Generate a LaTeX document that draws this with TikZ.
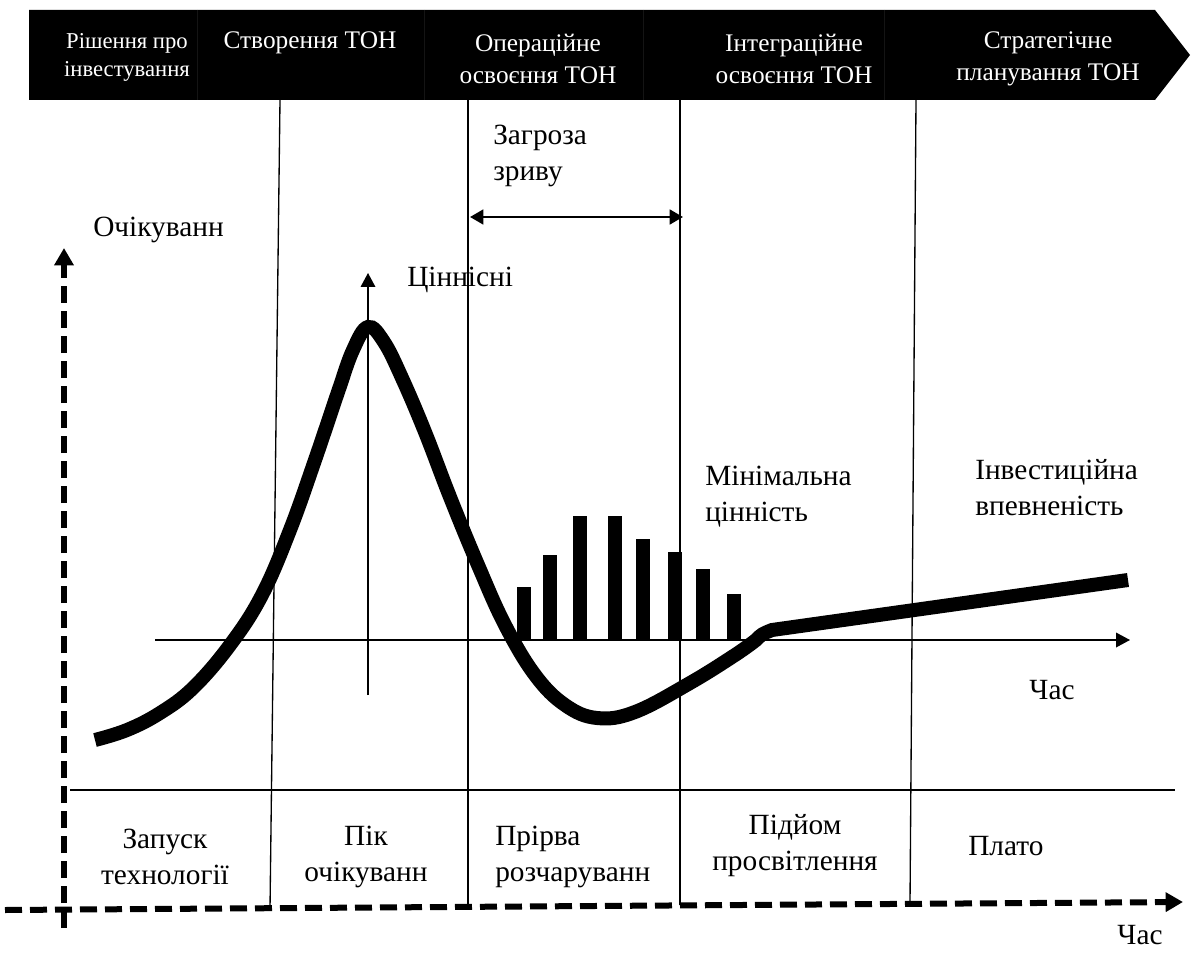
\documentclass[tikz,border=0pt]{standalone}
\usepackage{fontspec}
\setmainfont{Liberation Serif}
\usetikzlibrary{arrows.meta}
\begin{document}
\begin{tikzpicture}[x=0.75pt,y=0.75pt,yscale=-1,xscale=1,
    lbl/.style={font=\fontsize{22}{27}\selectfont,align=left,inner sep=0pt},
    hdr/.style={text=white,font=\fontsize{19}{24}\selectfont,align=center,inner sep=0pt},
    dashaxis/.style={line width=4.5pt,dash pattern=on 12.75pt off 6pt,-{Triangle[length=13pt,width=14pt]}},
    thinaxis/.style={line width=1pt,-{Triangle[length=10.5pt,width=11pt]}}]
    \useasboundingbox (0,0) rectangle (1191,962);
    \fill (29,10) -- (1155,10) -- (1190,55) -- (1155,100) -- (29,100) -- cycle;
    \foreach \x in {197,424,643,884} \draw[black!92] (\x,10) -- (\x,100);
    \node[hdr,font=\fontsize{17}{21}\selectfont] (inv) at (127,57) {Рішення про\\інвестування};
    \node[hdr] (cre) at (310,43) {Створення ТОН};
    \node[hdr] (ops) at (538,59) {Операційне\\освоєння ТОН};
    \node[hdr] (itg) at (794,59) {Інтеграційне\\освоєння ТОН};
    \node[hdr] (stg) at (1048,59) {Стратегічне\\планування ТОН};
    \draw[line width=1pt] (280,100) -- (270,909);
    \draw[line width=1pt] (468,100) -- (468,906);
    \draw[line width=1pt] (680,100) -- (680,905);
    \draw[line width=1pt] (916,100) -- (910,903);
    \draw[line width=1pt] (70,790) -- (1175,790);
    \draw[dashaxis] (5,910) -- (1183,902);
    \draw[dashaxis] (64,928) -- (64,248);
    \draw[thinaxis] (368,695) -- (368,273);
    \draw[thinaxis] (155,640) -- (1130,640);
    \draw[line width=2pt,{Triangle[length=10pt,width=11pt]}-{Triangle[length=10pt,width=11pt]}] (470,217) -- (683,217);
    \foreach \x/\t in {524/587,550/555,580/516,615/516,643/539,675/552,703/569,734/594}
        \fill (\x-7,\t) rectangle (\x+7,641);
    \draw[line width=10.5pt] plot[smooth,tension=0.65] coordinates {(95,740) (127,730) (160,713) (193,688) (230,645) (262,595) (290,530) (315,460) (338,392) (353,350) (368,327) (384,342) (402,378) (425,432) (450,497) (478,565) (505,625) (535,675) (565,705) (597,718) (635,712) (690,683) (735,655) (756,640)} .. controls (762,634) .. (772,630) -- (1128,580);
    \node[lbl,anchor=base west] (exp) at (93,237) {Очікуванн};
    \node[lbl,anchor=base west] (val) at (407,287) {Ціннісні};
    \node[lbl,anchor=west] (thr) at (493,156) {Загроза\\зриву};
    \node[lbl,anchor=west] (minv) at (705,497) {Мінімальна\\цінність};
    \node[lbl,anchor=west] (conf) at (975,488) {Інвестиційна\\впевненість};
    \node[lbl] (t1) at (1052,690) {Час};
    \node[lbl] (t2) at (1140,935) {Час};
    \node[lbl,align=center] (lau) at (165,857) {Запуск\\технології};
    \node[lbl,align=center] (pk) at (366,857) {Пік\\очікуванн};
    \node[lbl,anchor=west] (gap) at (495,857) {Прірва\\розчаруванн};
    \node[lbl,align=center] (rise) at (795,846) {Підйом\\просвітлення};
    \node[lbl,anchor=base west] (plt) at (968,855) {Плато};
\end{tikzpicture}
\end{document}
